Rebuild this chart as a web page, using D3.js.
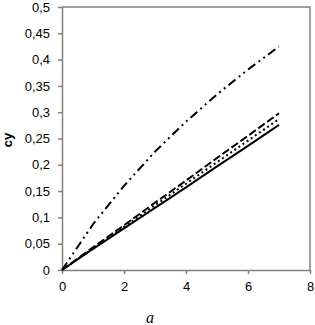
<!DOCTYPE html>
<meta charset="utf-8">
<style type="text/css">

body { margin: 0; background: #fff; }

.tick text {
  font-family: Arial, "Liberation Sans", sans-serif;
  font-size: 13px;
  fill: #000;
}

.domain, .tick line {
  stroke: #808080;
  stroke-width: 1.5;
}

.frame {
  fill: none;
  stroke: #808080;
  stroke-width: 1.5;
}

.series {
  fill: none;
  stroke: #000;
  stroke-width: 2;
}

</style>
<svg width="315" height="325"></svg>
<script src="https://cdnjs.cloudflare.com/ajax/libs/d3/7.8.5/d3.min.js"></script>
<script>

// values
var xs      = [0, 1, 2, 3, 4, 5, 6, 7];
var solid   = [0, 0.040, 0.079, 0.118, 0.157, 0.197, 0.236, 0.276];
var dotted  = [0, 0.041, 0.082, 0.123, 0.164, 0.205, 0.246, 0.287];
var dashed  = [0, 0.043, 0.085, 0.128, 0.170, 0.213, 0.255, 0.298];
var dashDot = [0, 0.087, 0.160, 0.225, 0.282, 0.334, 0.381, 0.425];

var xTicks = [0, 2, 4, 6, 8];
var yTicks = [0, 0.05, 0.1, 0.15, 0.2, 0.25, 0.3, 0.35, 0.4, 0.45, 0.5];

var svg = d3.select("svg");

var x = d3.scaleLinear().domain([0, 8]).range([62, 310]);
var y = d3.scaleLinear().domain([0, 0.5]).range([270, 7]);

var fmt = function(d){ return String(d).replace(".", ","); };

// frame (top & right)
svg.append("path")
   .attr("class", "frame")
   .attr("d", "M" + x(0) + "," + y(0.5) + "H" + x(8) + "V" + y(0));

svg.append("g")
   .attr("transform", "translate(0," + y(0) + ")")
   .call(d3.axisBottom(x).tickValues(xTicks).tickFormat(fmt).tickSize(4).tickSizeOuter(0).tickPadding(8));

svg.append("g")
   .attr("transform", "translate(" + x(0) + ",0)")
   .call(d3.axisLeft(y).tickValues(yTicks).tickFormat(fmt).tickSize(4).tickSizeOuter(0).tickPadding(8));

var line = d3.line()
    .x(function(d){ return x(d[0]); })
    .y(function(d){ return y(d[1]); });

var series = [
  { v: solid,   dash: null },
  { v: dotted,  dash: "2,3" },
  { v: dashed,  dash: "8,3" },
  { v: dashDot, dash: "9,4,2,4,2,4" }
];

svg.selectAll(".series")
   .data(series)
   .enter().append("path")
   .attr("class", "series")
   .attr("stroke-dasharray", function(d){ return d.dash; })
   .attr("d", function(d){ return line(xs.map(function(xv, i){ return [xv, d.v[i]]; })); });

// axis titles
svg.append("text")
   .attr("transform", "translate(12,140) rotate(-90)")
   .attr("text-anchor", "middle")
   .style("font-family", "Arial, 'Liberation Sans', sans-serif")
   .style("font-weight", "bold")
   .style("font-size", "13px")
   .text("cy");

svg.append("text")
   .attr("x", 150)
   .attr("y", 323)
   .attr("text-anchor", "middle")
   .style("font-family", "'Times New Roman', 'Liberation Serif', serif")
   .style("font-style", "italic")
   .style("font-size", "16px")
   .text("a");

</script>
